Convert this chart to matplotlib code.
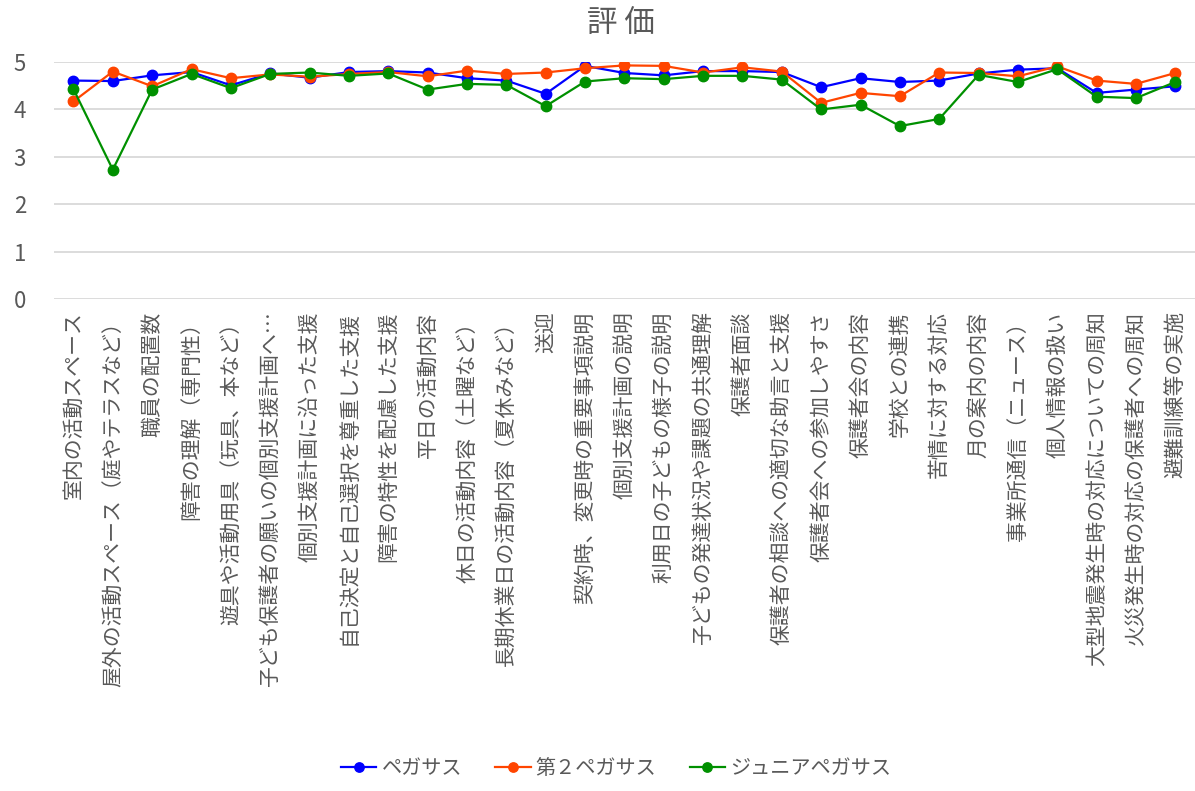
import numpy as np
import matplotlib.pyplot as plt

plt.rcParams['font.family'] = ['Noto Sans CJK JP', 'DejaVu Sans']

# 項目
categories = [
    '室内の活動スペース',
    '屋外の活動スペース（庭やテラスなど）',
    '職員の配置数',
    '障害の理解（専門性）',
    '遊具や活動用具（玩具、本など）',
    '子ども保護者の願いの個別支援計画へ…',
    '個別支援計画に沿った支援',
    '自己決定と自己選択を尊重した支援',
    '障害の特性を配慮した支援',
    '平日の活動内容',
    '休日の活動内容（土曜など）',
    '長期休業日の活動内容（夏休みなど）',
    '送迎',
    '契約時、変更時の重要事項説明',
    '個別支援計画の説明',
    '利用日の子どもの様子の説明',
    '子どもの発達状況や課題の共通理解',
    '保護者面談',
    '保護者の相談への適切な助言と支援',
    '保護者会への参加しやすさ',
    '保護者会の内容',
    '学校との連携',
    '苦情に対する対応',
    '月の案内の内容',
    '事業所通信（ニュース）',
    '個人情報の扱い',
    '大型地震発生時の対応についての周知',
    '火災発生時の対応の保護者への周知',
    '避難訓練等の実施',
]

pegasus = [4.61, 4.60, 4.72, 4.79, 4.51, 4.76, 4.67, 4.79, 4.81, 4.78,
           4.66, 4.61, 4.33, 4.92, 4.77, 4.72, 4.81, 4.81, 4.79, 4.47,
           4.66, 4.58, 4.61, 4.76, 4.84, 4.87, 4.35, 4.42, 4.49]
pegasus2 = [4.17, 4.80, 4.49, 4.85, 4.66, 4.74, 4.69, 4.75, 4.79, 4.70,
            4.82, 4.75, 4.78, 4.87, 4.93, 4.92, 4.78, 4.89, 4.80, 4.14,
            4.35, 4.28, 4.78, 4.77, 4.70, 4.91, 4.61, 4.54, 4.77]
junior = [4.43, 2.73, 4.42, 4.75, 4.45, 4.75, 4.78, 4.71, 4.76, 4.42,
          4.54, 4.52, 4.07, 4.59, 4.66, 4.64, 4.71, 4.71, 4.63, 4.00,
          4.10, 3.65, 3.80, 4.73, 4.58, 4.85, 4.27, 4.24, 4.58]

series = [
    ('ペガサス', pegasus, '#0000FF'),
    ('第２ペガサス', pegasus2, '#FF4500'),
    ('ジュニアペガサス', junior, '#009000'),
]

gray = '#595959'

fig = plt.figure(figsize=(11.95, 7.91), dpi=100)
ax = fig.add_axes([0.045, 0.622, 0.955, 0.2995])

x = np.arange(len(categories))
for name, vals, col in series:
    ax.plot(x, vals, color=col, lw=1.6, marker='o', markersize=7.5, label=name)

ax.set_xlim(-0.5, len(categories) - 0.5)
ax.set_ylim(0, 5)
ax.set_yticks(range(6))
ax.set_xticks(x)
ax.set_xticklabels(categories, rotation=90, fontsize=15, color=gray)
ax.tick_params(axis='y', labelsize=16, colors=gray, length=0, pad=20)
ax.tick_params(axis='x', length=0, pad=9)
ax.grid(axis='y', color='#D9D9D9', lw=1.3)
ax.set_axisbelow(True)
for s in ax.spines.values():
    s.set_visible(False)

fig.suptitle('評 価', x=0.52, y=0.99, fontsize=22, color=gray)

fig.legend(loc='lower center', bbox_to_anchor=(0.5155, -0.008), ncol=3,
           frameon=False, fontsize=14.5, labelcolor=gray, markerscale=0.9,
           handlelength=1.75, handletextpad=0.25, columnspacing=1.65)

fig.savefig('out.png', dpi=100)
